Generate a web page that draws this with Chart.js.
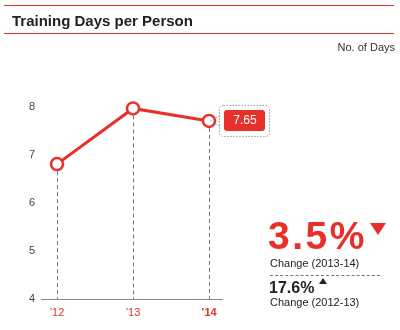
<!DOCTYPE html>
<html>
<head>
<meta charset="utf-8">
<script src="https://cdn.jsdelivr.net/npm/chart.js@4"></script>
<style>
  body { margin: 0; background: #fff; font-family: "Liberation Sans", Arial, sans-serif; }
  #wrap { position: relative; width: 400px; height: 330px; }
  #canvas { position: absolute; left: 0; top: 0; }
  .rule { position: absolute; left: 4px; width: 390px; height: 1px; background: #e3342c; }
  .txt { position: absolute; white-space: nowrap; line-height: 1; }
</style>
</head>
<body>
<div id="wrap">
  <canvas id="canvas" width="400" height="330"></canvas>
  <div class="rule" style="top:5px"></div>
  <div class="txt" style="left:12px;top:13px;font-size:15px;font-weight:bold;color:#222">Training Days per Person</div>
  <div class="rule" style="top:33px"></div>
  <div class="txt" style="right:5px;top:42px;font-size:11px;color:#333">No. of Days</div>

  <div class="txt" style="left:268px;top:216px;font-size:39px;font-weight:bold;color:#e8302a;letter-spacing:2.5px">3.5%</div>
  <div style="position:absolute;left:370px;top:223px;width:0;height:0;border-left:8px solid transparent;border-right:8px solid transparent;border-top:12px solid #e8302a"></div>
  <div class="txt" style="left:270px;top:258px;font-size:11px;color:#222">Change (2013-14)</div>
  <div style="position:absolute;left:270px;top:275px;width:110px;border-top:1px dashed #777"></div>
  <div class="txt" style="left:269px;top:280px;font-size:16px;font-weight:bold;color:#222">17.6%</div>
  <div style="position:absolute;left:319px;top:278px;width:0;height:0;border-left:4px solid transparent;border-right:4px solid transparent;border-bottom:6px solid #222"></div>
  <div class="txt" style="left:270px;top:297px;font-size:11px;color:#222">Change (2012-13)</div>
</div>
<script>
let years = ['\u201912', '\u201913', '\u201914'];
let trainingDays = [6.81, 7.97, 7.71];
let latestLabel = '7.65';
let yTicks = [4, 5, 6, 7, 8];

let red = '#e8302a';

let extras = {
  id: 'extras',
  beforeDatasetsDraw: function(chart) {
    let c = chart.ctx;
    let area = chart.chartArea;
    let meta = chart.getDatasetMeta(0);
    c.save();
    // dashed drop lines
    c.strokeStyle = '#777';
    c.lineWidth = 1;
    c.setLineDash([4, 3]);
    meta.data.forEach(function(pt) {
      c.beginPath();
      c.moveTo(Math.round(pt.x) + 0.5, pt.y);
      c.lineTo(Math.round(pt.x) + 0.5, area.bottom);
      c.stroke();
    });
    // axis line
    c.setLineDash([]);
    c.strokeStyle = '#888';
    c.beginPath();
    c.moveTo(area.left - 16, area.bottom + 0.5);
    c.lineTo(area.right + 14, area.bottom + 0.5);
    c.stroke();
    c.restore();
  },
  afterDatasetsDraw: function(chart) {
    let c = chart.ctx;
    let meta = chart.getDatasetMeta(0);
    let pt = meta.data[meta.data.length - 1];
    let x = pt.x, y = pt.y;
    c.save();
    // dotted outer box + pointer
    c.strokeStyle = '#999';
    c.lineWidth = 1;
    c.setLineDash([1.5, 1.5]);
    c.beginPath();
    c.roundRect(x + 10.5, y - 15.5, 50, 31, 4);
    c.stroke();
    c.beginPath();
    c.moveTo(x + 10.5, y - 5);
    c.lineTo(x + 2, y);
    c.lineTo(x + 10.5, y + 5);
    c.stroke();
    c.setLineDash([]);
    // red label
    c.fillStyle = red;
    c.beginPath();
    c.roundRect(x + 15, y - 11, 41, 21, 3);
    c.fill();
    c.fillStyle = '#fff';
    c.font = '12px "Liberation Sans", Arial, sans-serif';
    c.textAlign = 'center';
    c.textBaseline = 'middle';
    c.fillText(latestLabel, x + 36, y);
    c.restore();
  }
};

let ctx = document.getElementById('canvas').getContext('2d');
let chart = new Chart(ctx, {
  type: 'line',
  data: {
    labels: years,
    datasets: [{
      label: 'Training days',
      data: trainingDays,
      borderColor: red,
      borderWidth: 3,
      pointRadius: 6,
      pointBorderWidth: 2.5,
      pointBackgroundColor: '#fff',
      pointBorderColor: red,
      tension: 0,
      clip: false
    }]
  },
  options: {
    responsive: false,
    animation: false,
    events: [],
    layout: { padding: { left: 0, right: 191, top: 107, bottom: 0 } },
    plugins: { legend: { display: false }, tooltip: { enabled: false } },
    scales: {
      x: {
        offset: false,
        grid: { display: false, drawTicks: false },
        border: { display: false },
        ticks: {
          padding: 7,
          color: red,
          font: function(c) {
            return { size: 11, family: '"Liberation Sans", Arial, sans-serif', weight: c.index === 2 ? 'bold' : 'normal' };
          }
        },
        afterFit: function(s) { s.height = 31; }
      },
      y: {
        min: 4,
        max: 8,
        grid: { display: false, drawTicks: false },
        border: { display: false },
        afterBuildTicks: function(s) { s.ticks = yTicks.map(function(v) { return { value: v }; }); },
        ticks: {
          padding: 22,
          color: '#444',
          font: { size: 11, family: '"Liberation Sans", Arial, sans-serif' }
        },
        afterFit: function(s) { s.width = 57; }
      }
    }
  },
  plugins: [extras]
});
</script>
</body>
</html>
